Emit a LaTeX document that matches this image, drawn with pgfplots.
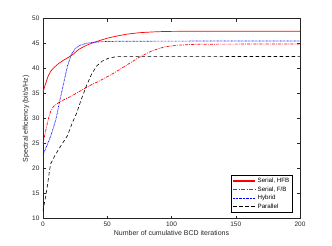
\documentclass[border=0pt]{standalone}
\usepackage{pgfplots}
\pgfplotsset{compat=1.18}
\usepackage{fontspec}
\setmainfont{Liberation Sans}
\definecolor{axgray}{rgb}{0.15,0.15,0.15}
\definecolor{mred}{rgb}{1,0,0}
\definecolor{mblue}{rgb}{0,0,1}
\begin{document}
\begin{tikzpicture}
\path[use as bounding box] (-43pt,-27.3pt) rectangle (289pt,218.7pt);
\begin{axis}[
  at={(0pt,0pt)}, anchor=south west,
  scale only axis, width=257pt, height=200pt,
  xmin=0, xmax=200, ymin=10, ymax=50,
  xtick={0,50,100,150,200}, ytick={10,15,...,50},
  tick align=inside, major tick length=3pt,
  axis line style={axgray, line width=0.5pt},
  every tick/.style={axgray, line width=0.4pt},
  tick label style={font=\fontsize{6.5}{7}\selectfont, text=axgray},
  /pgf/number format/assume math mode=true,
  xlabel={Number of cumulative BCD iterations},
  ylabel={Spectral efficiency (bit/s/Hz)},
  label style={font=\fontsize{7}{8}\selectfont, text=axgray},
  xlabel style={yshift=3pt},
  ylabel style={yshift=-4pt},
  legend style={at={(0.972,0.0285)}, anchor=south east, font=\fontsize{6.2}{6.7}\selectfont,
    line width=0.5pt, inner sep=1.2pt, row sep=-1.5pt, cells={anchor=west}},
  clip=true,
]
\addplot[draw=mred, line width=0.7pt, legend image code/.code={\draw[draw=mred, line width=1.2pt] (0pt,0pt) -- (22pt,0pt);}] coordinates {(0,35.3)(2,37.0)(4,38.5)(6,39.5)(8,40.1)(12,41.0)(16,41.7)(20,42.3)(24,43.0)(28,43.9)(34,44.7)(40,45.3)(45,45.7)(50,46.1)(57,46.5)(65,46.9)(75,47.2)(85,47.35)(95,47.45)(120,47.5)(200,47.5)};
\addlegendentry{Serial, HFB}
\addplot[draw=mred, line width=0.7pt, dash pattern=on 3pt off 1.2pt on 0.8pt off 1.2pt, legend image code/.code={\draw[draw=mred, line width=1.2pt, dash pattern=on 4pt off 1.5pt on 1.2pt off 1.5pt] (0pt,0pt) -- (22pt,0pt);}] coordinates {(0,25)(2,27.5)(4,29.8)(6,31.5)(8,32.4)(11,33.0)(14,33.5)(18,34.0)(22,34.5)(26,35.1)(30,35.7)(37,36.7)(45,37.7)(55,39.1)(65,40.7)(75,42.3)(85,43.6)(95,44.4)(105,44.7)(120,44.9)(200,44.95)};
\addlegendentry{Serial, F/B}
\addplot[draw=mblue, line width=0.7pt, dash pattern=on 0.7pt off 0.7pt, legend image code/.code={\draw[draw=mblue, line width=0.8pt, dash pattern=on 0.7pt off 0.7pt] (0pt,0pt) -- (22pt,0pt);}] coordinates {(0,22.8)(3,24.6)(6,26.5)(10,29.8)(13,33.5)(16,37.0)(19,40.5)(22,42.8)(25,44.0)(28,44.6)(34,45.1)(45,45.4)(60,45.5)(200,45.55)};
\addlegendentry{Hybrid}
\addplot[draw=black, line width=0.6pt, dash pattern=on 3.5pt off 2.5pt, legend image code/.code={\draw[draw=black, line width=0.8pt, dash pattern=on 3.5pt off 2.5pt] (0pt,0pt) -- (22pt,0pt);}] coordinates {(0,11.5)(1,13)(3,15.8)(5,19.5)(6,21)(9,22.5)(12,23.8)(15,25)(19,26.6)(23,29.3)(26,31)(30,34)(34,36.7)(38,39)(42,40.6)(46,41.5)(51,42.1)(57,42.4)(200,42.45)};
\addlegendentry{Parallel}
\end{axis}
\end{tikzpicture}
\end{document}
